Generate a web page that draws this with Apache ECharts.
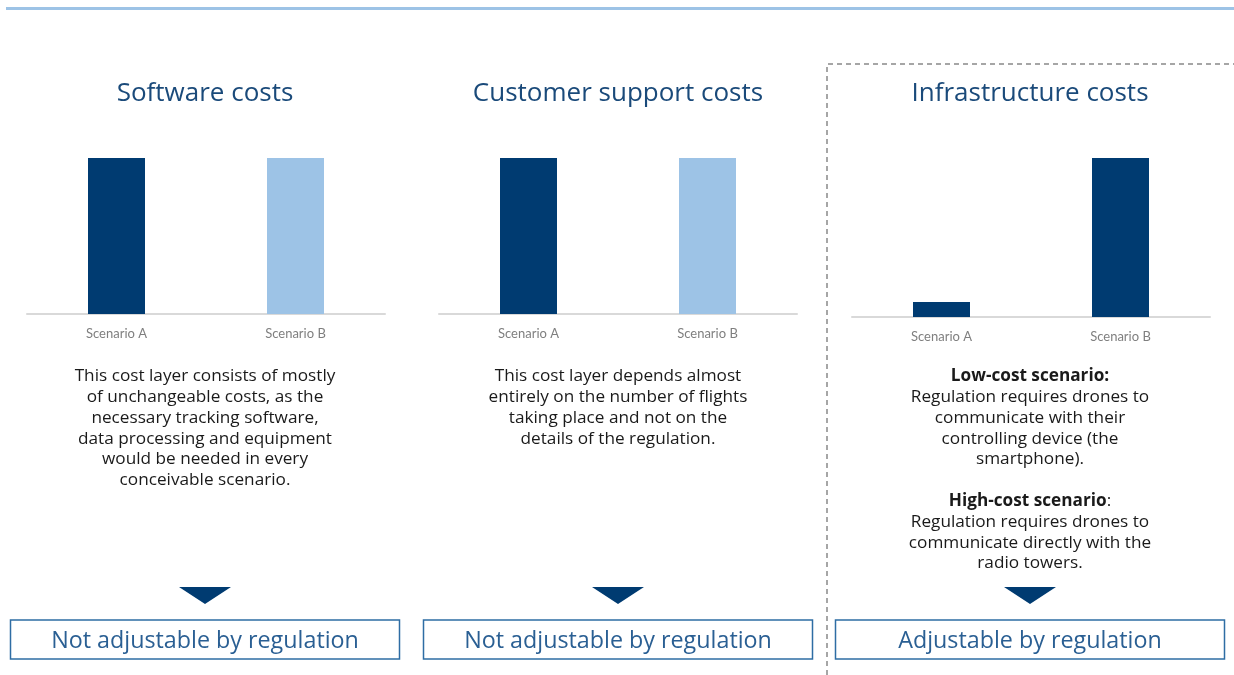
<!DOCTYPE html>
<html>
<head>
<meta charset="utf-8">
<script src="https://cdn.jsdelivr.net/npm/echarts@6/dist/echarts.min.js"></script>
<style>
  html, body { margin: 0; padding: 0; background: #fff; }
  #chart { width: 1234px; height: 675px; }
</style>
</head>
<body>
<div id="chart"></div>
<script>
// data
const scenarios = ['Scenario A', 'Scenario B']
const panelTitles = ['Software costs', 'Customer support costs', 'Infrastructure costs']
const softwareCosts = [100, 100]
const supportCosts = [100, 100]
const infrastructureCosts = [9.5, 100]
const verdicts = ['Not adjustable by regulation', 'Not adjustable by regulation', 'Adjustable by regulation']
const notes = [
  'This cost layer consists of mostly\nof unchangeable costs, as the\nnecessary tracking software,\ndata processing and equipment\nwould be needed in every\nconceivable scenario.',
  'This cost layer depends almost\nentirely on the number of flights\ntaking place and not on the\ndetails of the regulation.'
]

const navy = '#003B71'
const lightBlue = '#9DC3E6'
const titleColor = '#1A4A7A'
const boxColor = '#2E6DA4'
const font = '"Open Sans", sans-serif'

const chart = echarts.init(document.getElementById('chart'))

// panel geometry
const panels = [
  { cx: 205, left: 27, top: 158, bottom: 314, series: softwareCosts, colors: [navy, lightBlue] },
  { cx: 618, left: 439, top: 158, bottom: 314, series: supportCosts, colors: [navy, lightBlue] },
  { cx: 1030, left: 852, top: 158, bottom: 317, series: infrastructureCosts, colors: [navy, navy] }
]

const grids = panels.map(p => ({
  left: p.left, width: 358, top: p.top, height: p.bottom - p.top
}))
const xAxes = panels.map((p, i) => ({
  type: 'category', gridIndex: i, data: scenarios,
  axisLine: { lineStyle: { color: '#D9D9D9', width: 2 } },
  axisTick: { show: false },
  axisLabel: { color: '#7F7F7F', fontSize: 13, fontFamily: 'Lato, sans-serif', margin: 13 }
}))
const yAxes = panels.map((p, i) => ({
  type: 'value', gridIndex: i, min: 0, max: 100, show: false, splitLine: { show: false }
}))
const series = panels.map((p, i) => ({
  type: 'bar', xAxisIndex: i, yAxisIndex: i, barWidth: 57,
  data: p.series.map((v, j) => ({ value: v, itemStyle: { color: p.colors[j] } })),
  animation: false
}))

const titles = panels.map((p, i) => ({
  text: panelTitles[i], left: p.cx, top: 81, textAlign: 'center', padding: 0,
  textStyle: { color: titleColor, fontSize: 26, fontWeight: 'normal', fontFamily: font }
}))

const graphic = []
// top rule
graphic.push({ type: 'line', shape: { x1: 6, y1: 8.5, x2: 1234, y2: 8.5 }, style: { stroke: lightBlue, lineWidth: 3 } })
// dashed frame around the adjustable panel
graphic.push({ type: 'polyline', shape: { points: [[827, 675], [827, 64], [1234, 64]] },
  style: { stroke: '#A6A6A6', lineWidth: 2, lineDash: [5, 4], fill: null } })

notes.forEach((t, i) => {
  graphic.push({ type: 'text', x: panels[i].cx, y: 366,
    style: { text: t, fill: '#1A1A1A', font: '17.2px ' + font, lineHeight: 20.8, align: 'center', verticalAlign: 'top' } })
})
graphic.push({ type: 'text', x: panels[2].cx, y: 366,
  style: {
    text: '{b|Low-cost scenario:}\nRegulation requires drones to\ncommunicate with their\ncontrolling device (the\nsmartphone).\n\n{b|High-cost scenario}:\nRegulation requires drones to\ncommunicate directly with the\nradio towers.',
    fill: '#1A1A1A', font: '17.2px ' + font, lineHeight: 20.8, align: 'center', verticalAlign: 'top',
    rich: { b: { fontWeight: 'bold', fontSize: 17.2, fontFamily: font, fill: '#1A1A1A', lineHeight: 20.8 } }
  } })

panels.forEach((p, i) => {
  graphic.push({ type: 'polygon', shape: { points: [[p.cx - 26, 587], [p.cx + 26, 587], [p.cx, 604]] },
    style: { fill: navy } })
  graphic.push({ type: 'rect', shape: { x: p.cx - 194.5, y: 620, width: 389, height: 39 },
    style: { fill: '#fff', stroke: boxColor, lineWidth: 1.5 } })
  graphic.push({ type: 'text', x: p.cx, y: 641,
    style: { text: verdicts[i], fill: '#2A5F93', font: '23.3px ' + font, align: 'center', verticalAlign: 'middle' } })
})

chart.setOption({
  animation: false,
  title: titles,
  grid: grids,
  xAxis: xAxes,
  yAxis: yAxes,
  series: series,
  graphic: graphic
})
</script>
</body>
</html>
